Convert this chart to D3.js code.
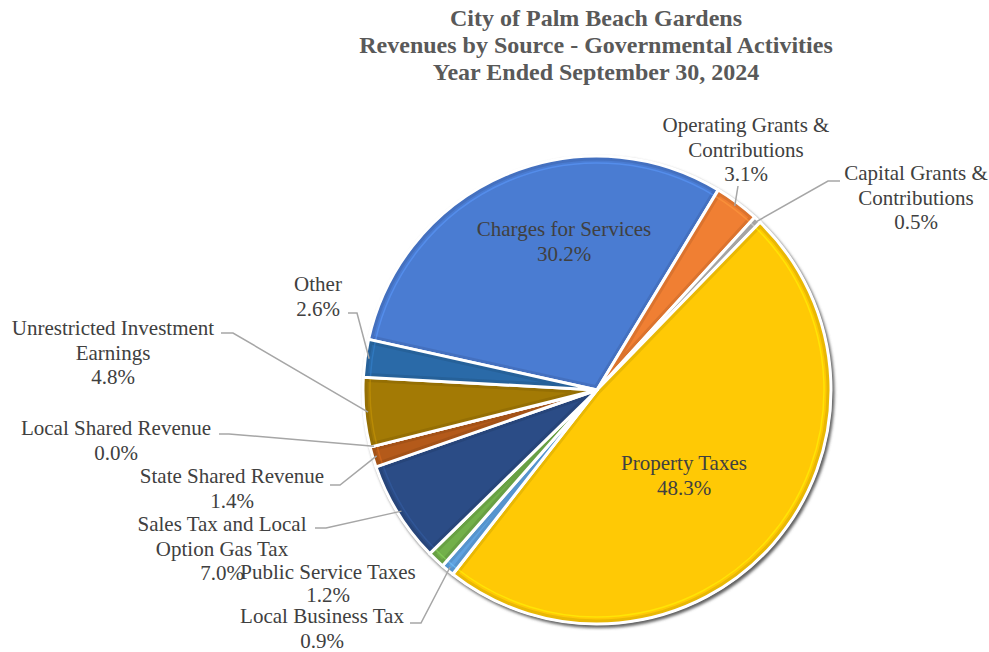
<!DOCTYPE html>
<html>
<head>
<meta charset="utf-8">
<script src="https://cdn.jsdelivr.net/npm/d3@7"></script>
<style>
  body { margin: 0; background: #fff; }
  text { font-family: 'Liberation Serif', 'Times New Roman', serif; }
</style>
</head>
<body>
<div id="chart"></div>
<script>
var sources = ['Charges for Services', 'Operating Grants & Contributions', 'Capital Grants & Contributions',
    'Property Taxes', 'Local Business Tax', 'Public Service Taxes', 'Sales Tax and Local Option Gas Tax',
    'State Shared Revenue', 'Local Shared Revenue', 'Unrestricted Investment Earnings', 'Other'];
var shares = [30.2, 3.1, 0.5, 48.3, 0.9, 1.2, 7.0, 1.4, 0.0, 4.8, 2.6];
var labelLines = [
    ['Charges for Services'], ['Operating Grants &', 'Contributions'], ['Capital Grants &', 'Contributions'],
    ['Property Taxes'], ['Local Business Tax'], ['Public Service Taxes'], ['Sales Tax and Local', 'Option Gas Tax'],
    ['State Shared Revenue'], ['Local Shared Revenue'], ['Unrestricted Investment', 'Earnings'], ['Other']
];
var titleLines = ['City of Palm Beach Gardens', 'Revenues by Source - Governmental Activities', 'Year Ended September 30, 2024'];

var colors = ['#4a7cd2', '#f07f33', '#b4b4b4', '#ffc905', '#5fa2e0', '#72b04a', '#2b4c86', '#b45a1a', '#6a6a6a', '#a37a05', '#2a6aa8'];

var width = 989, height = 652;
var cx = 597, cy = 390, r = 234;

// label layout: text centre x, first baseline y, leader start [x, y, elbow x]
var labelPos = [
    {x: 564, y: 236},
    {x: 746, y: 132, lead: [738, 186]},
    {x: 916, y: 180, lead: [840, 181, 828]},
    {x: 684, y: 470},
    {x: 322, y: 623, lead: [410, 623, 421]},
    {x: 328, y: 579},
    {x: 222, y: 531, lead: [315, 528, 326]},
    {x: 232, y: 483, lead: [330, 485, 340]},
    {x: 116, y: 435, lead: [219, 434, 229]},
    {x: 113, y: 335, lead: [221, 333, 233]},
    {x: 318, y: 291, lead: [348, 313, 357]}
];

var svg = d3.select('#chart').append('svg')
    .attr('width', width)
    .attr('height', height);

var defs = svg.append('defs');
var blur = defs.append('filter').attr('id', 'shadow').attr('x', '-10%').attr('y', '-10%').attr('width', '120%').attr('height', '120%');
blur.append('feGaussianBlur').attr('stdDeviation', 1.8);

var title = svg.append('text')
    .attr('text-anchor', 'middle')
    .style('font-size', '24px')
    .style('font-weight', 'bold')
    .attr('fill', '#595959');
titleLines.forEach((t, i) => {
    title.append('tspan').attr('x', 596).attr('y', 26 + i * 27).text(t);
});

var pie = d3.pie().sort(null).value(d => d)
    .startAngle(-77.5 * Math.PI / 180)
    .endAngle((360 - 77.5) * Math.PI / 180);
var arcs = pie(shares);

var arc = d3.arc().innerRadius(0).outerRadius(r);
var inner = d3.arc().innerRadius(0).outerRadius(r - 7);

var g = svg.append('g').attr('transform', `translate(${cx},${cy})`);

// shadow / rim
g.append('circle').attr('r', r + 1.5).attr('cx', 2).attr('cy', 2.5)
    .attr('fill', '#5f5f5f').attr('filter', 'url(#shadow)');
g.append('circle').attr('r', r + 1).attr('fill', '#e0e0e0');

var slices = g.selectAll('g.slice').data(arcs).enter().append('g').attr('class', 'slice');

slices.append('clipPath').attr('id', (d, i) => 'clip' + i)
    .append('path').attr('d', arc);

slices.append('path')
    .attr('d', arc)
    .attr('fill', (d, i) => colors[i]);

// bevel: darker rim, lighter inner edge
slices.append('path')
    .attr('d', d => d.value > 0 ? arc(d) : null)
    .attr('fill', 'none')
    .attr('stroke', (d, i) => d3.color(colors[i]).darker(0.8))
    .attr('stroke-width', 9)
    .attr('stroke-opacity', 0.35)
    .attr('clip-path', (d, i) => `url(#clip${i})`);
slices.append('path')
    .attr('d', d => d.value > 0 ? inner(d) : null)
    .attr('fill', 'none')
    .attr('stroke', (d, i) => d3.color(colors[i]).brighter(0.6))
    .attr('stroke-width', 1.5)
    .attr('stroke-opacity', 0.55);

slices.append('path')
    .attr('d', arc)
    .attr('fill', 'none')
    .attr('stroke', '#fff')
    .attr('stroke-width', 3)
    .attr('stroke-linejoin', 'round');

// leader lines
arcs.forEach((d, i) => {
    var p = labelPos[i];
    if (!p.lead) return;
    var mid = (d.startAngle + d.endAngle) / 2;
    var ex = cx + Math.sin(mid) * (r - 4);
    var ey = cy - Math.cos(mid) * (r - 4);
    var pts = p.lead.length === 2
        ? [[p.lead[0], p.lead[1]], [ex, ey]]
        : [[p.lead[0], p.lead[1]], [p.lead[2], p.lead[1]], [ex, ey]];
    svg.append('path')
        .attr('d', d3.line()(pts))
        .attr('fill', 'none')
        .attr('stroke', '#a6a6a6')
        .attr('stroke-width', 1.5);
});

// labels
arcs.forEach((d, i) => {
    var p = labelPos[i];
    var lines = labelLines[i].concat([shares[i].toFixed(1) + '%']);
    var t = svg.append('text')
        .attr('text-anchor', 'middle')
        .style('font-size', '21px')
        .attr('fill', '#404040');
    lines.forEach((s, j) => {
        t.append('tspan').attr('x', p.x).attr('y', p.y + j * (i === 5 ? 23 : 24.5)).text(s);
    });
});
</script>
</body>
</html>
